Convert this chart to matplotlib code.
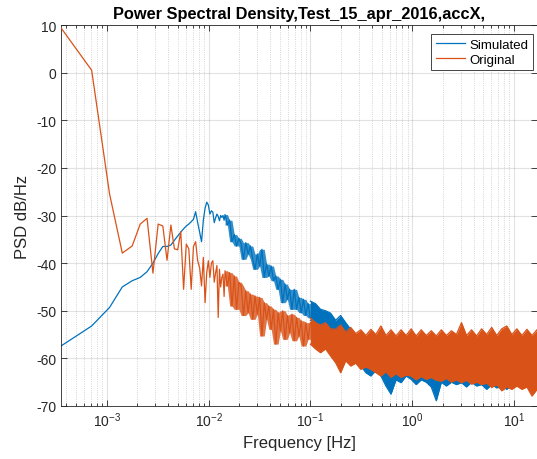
import numpy as np
import matplotlib
matplotlib.use("Agg")
from matplotlib import pyplot as plt

plt.rcParams["font.family"] = ["Liberation Sans", "DejaVu Sans"]
plt.rcParams["mathtext.fontset"] = "custom"
plt.rcParams["mathtext.rm"] = "Liberation Sans"
plt.rcParams["mathtext.it"] = "Liberation Sans:italic"
plt.rcParams["axes.unicode_minus"] = False

BLUE = "#0072BD"
ORANGE = "#D95319"
DARK = "#262626"

# frequency resolution of the PSD (Hz) and the last frequency shown
DF = 3.55e-4
F_MAX = 16.8

# low-frequency bins, one value per bin k * DF (k = 1..40), dB/Hz
sim_bins = [-57.4, -53.2, -49.3, -45.0, -43.7, -43.0, -41.8, -40.0, -38.0, -36.5,
            -36.5, -36.2, -35.2, -34.3, -33.5, -32.8, -32.2, -31.8, -31.3, -30.8,
            -29.2, -31.5, -33.5, -35.5, -31.0, -28.5, -27.2, -27.8, -29.7, -29.0,
            -29.3, -31.5, -30.5, -29.7, -30.2, -31.1, -30.0, -30.4, -30.0, -31.0]
orig_bins = [9.4, 0.5, -25.5, -37.9, -36.4, -31.8, -30.6, -42.1, -31.8, -32.2,
             -39.4, -32.0, -37.0, -37.2, -33.4, -45.5, -36.0, -37.0, -45.5, -36.5,
             -35.5, -39.5, -41.0, -44.8, -38.8, -48.3, -42.0, -39.5, -43.0, -40.0,
             -39.5, -44.0, -42.0, -40.5, -51.4, -41.3, -45.0, -43.0, -42.3, -47.0]

# 0.0145 .. 0.1 Hz: peaks and dips of the spectra, evenly spaced on the log axis
MID_F = (0.0145, 0.1)
sim_mid = [-29.8, -32.0, -31.0, -35.5, -34.0, -36.4, -34.8, -36.0, -39.2, -35.7,
           -38.1, -36.4, -39.2, -41.3, -38.1, -40.6, -37.1, -43.0, -40.2, -42.7,
           -40.6, -43.7, -42.7, -45.5, -43.4, -48.3, -44.4, -47.6, -45.5, -49.7,
           -45.5, -49.7, -47.2, -50.4, -47.6, -51.0, -48.5, -51.5]
orig_mid = [-41.6, -44.8, -42.0, -49.0, -42.7, -49.7, -44.0, -44.8, -51.0, -45.8,
            -50.4, -46.5, -51.8, -46.9, -50.7, -47.2, -55.3, -48.3, -51.8, -49.0,
            -53.9, -49.7, -57.0, -50.4, -54.2, -50.0, -56.0, -51.0, -54.6, -50.7,
            -56.3, -51.4, -55.3, -52.1, -57.4, -52.5, -56.0, -52.5]

# 0.1 .. 16.8 Hz: upper / lower envelope of the noise band, evenly spaced on the log axis
ENV_F = (0.1, F_MAX)
sim_upper = [-48.0, -48.5, -49.7, -50.0, -50.5, -52.0, -51.0, -52.5, -53.9, -55.0,
             -56.0, -57.0, -57.5, -57.0, -57.5, -57.0, -57.5, -57.0, -57.5, -57.0,
             -57.5, -57.0, -57.5, -57.0, -57.5, -57.0, -57.5, -57.0, -57.5, -57.0,
             -57.5, -57.0, -57.5, -57.0, -57.5, -57.0, -57.5, -57.0, -57.5, -57.0,
             -57.5, -57.0, -57.5, -57.0, -57.5, -57.0]
sim_lower = [-52.0, -52.5, -54.0, -55.0, -56.7, -58.8, -58.0, -60.5, -60.0, -60.9,
             -61.5, -63.0, -63.7, -62.5, -63.7, -65.8, -67.5, -64.5, -65.1, -63.7,
             -64.4, -65.5, -64.5, -65.0, -66.0, -68.9, -65.0, -65.8, -65.0, -65.5,
             -65.1, -66.0, -65.0, -65.8, -65.5, -66.5, -65.5, -66.2, -65.8, -66.5,
             -65.5, -65.8, -66.0, -65.5, -66.1, -66.5]
orig_upper = [-51.5, -52.5, -53.0, -52.5, -53.8, -53.9, -53.0, -54.5, -53.5, -54.8,
              -54.0, -55.2, -53.9, -55.0, -53.2, -55.2, -54.0, -55.3, -54.0, -55.2,
              -53.8, -55.3, -54.0, -55.2, -54.2, -55.3, -54.0, -55.2, -54.2, -55.0,
              -52.5, -55.2, -54.0, -55.3, -53.8, -55.0, -53.5, -55.2, -53.8, -53.2,
              -55.0, -53.8, -55.2, -53.9, -55.2, -54.0]
orig_lower = [-57.0, -58.0, -58.8, -58.0, -59.5, -60.9, -63.0, -60.5, -61.6, -61.0,
              -62.3, -61.8, -62.3, -63.0, -63.7, -62.8, -64.0, -63.2, -64.0, -63.5,
              -63.7, -64.5, -63.8, -64.4, -64.0, -64.6, -64.8, -64.2, -65.0, -64.5,
              -65.1, -64.6, -65.4, -65.0, -65.5, -65.2, -66.1, -65.5, -66.8, -66.0,
              -66.5, -65.8, -66.5, -66.0, -67.9, -66.5]


def draw_series(ax, bins, mid, upper, lower, color, label, z):
    """Sparse bins + mid zigzag as one line, dense part as a filled band."""
    f_mid = np.geomspace(*MID_F, len(mid))
    f_line = np.concatenate([DF * np.arange(1, len(bins) + 1), f_mid])
    ax.plot(f_line, bins + mid, color=color, lw=0.9, label=label, zorder=z)

    # the zigzag packs many bins per pixel: shade between its local peaks and dips
    m = np.pad(np.array(mid), 1, mode="edge")
    win = np.stack([m[:-2], m[1:-1], m[2:]])
    ax.fill_between(f_mid, win.min(axis=0), win.max(axis=0),
                    color=color, alpha=0.8, lw=0, zorder=z)

    f_env = np.geomspace(*ENV_F, len(upper))
    ax.fill_between(f_env, lower, upper, color=color, lw=0, zorder=z)
    ax.plot(f_env, upper, color=color, lw=0.9, zorder=z)
    ax.plot(f_env, lower, color=color, lw=0.9, zorder=z)


fig = plt.figure(figsize=(5.37, 4.6), dpi=100)
ax = fig.add_axes([61 / 537, 1 - 407 / 460, 476 / 537, 381 / 460])

draw_series(ax, sim_bins, sim_mid, sim_upper, sim_lower, BLUE, "Simulated", 2)
draw_series(ax, orig_bins, orig_mid, orig_upper, orig_lower, ORANGE, "Original", 3)

ax.set_xscale("log")
ax.set_xlim(DF, F_MAX)
ax.set_ylim(-70, 10)
ax.set_yticks(np.arange(-70, 11, 10))

ax.grid(True, which="major", color=DARK, alpha=0.13, lw=0.8)
ax.grid(True, which="minor", axis="x", color=DARK, alpha=0.25, lw=0.6, ls=":")
ax.set_axisbelow(True)

ax.tick_params(which="both", direction="in", top=True, right=True,
               colors=DARK, labelsize=10, width=0.6)
ax.tick_params(which="major", length=4.5)
ax.tick_params(which="minor", length=2.5)
for s in ax.spines.values():
    s.set_color(DARK)
    s.set_linewidth(0.6)

ax.set_xlabel("Frequency [Hz]", fontsize=12, color=DARK)
ax.set_ylabel("PSD dB/Hz", fontsize=12, color=DARK)
ax.set_title("Power Spectral Density,Test_15_apr_2016,accX,",
             fontsize=11.8, fontweight="bold", color="black", pad=5)

leg = ax.legend(loc="upper right", bbox_to_anchor=(533 / 537, 1 - 35 / 460),
                bbox_transform=fig.transFigure, borderaxespad=0,
                fontsize=9.5, fancybox=False, framealpha=1, edgecolor=DARK,
                handlelength=2.2, borderpad=0.35, labelspacing=0.2,
                handletextpad=0.35)
leg.get_frame().set_linewidth(0.6)
leg.set_zorder(10)

fig.savefig("out.png", dpi=100)
